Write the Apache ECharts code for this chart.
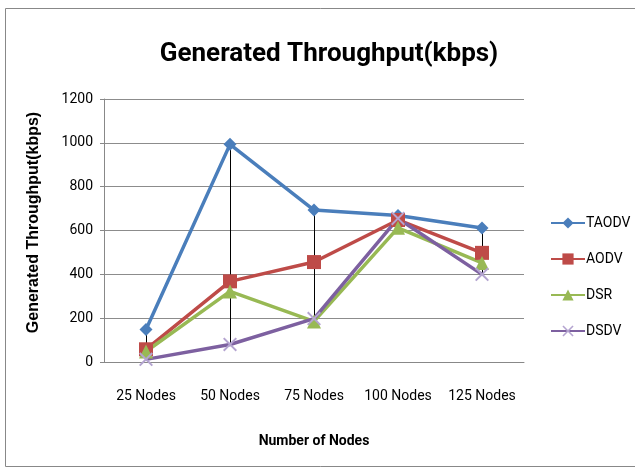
<!DOCTYPE html>
<html>
<head>
<meta charset="utf-8">
<script src="https://cdn.jsdelivr.net/npm/echarts@6/dist/echarts.min.js"></script>
<style>
  html, body { margin: 0; padding: 0; background: #fff; }
  #chart { width: 635px; height: 470px; }
</style>
</head>
<body>
<div id="chart"></div>
<script>
const categories = ['25 Nodes', '50 Nodes', '75 Nodes', '100 Nodes', '125 Nodes']
const taodv = [148, 993, 693, 668, 611]
const aodv = [58, 368, 456, 648, 498]
const dsr = [48, 322, 185, 612, 452]
const dsdv = [12, 80, 198, 655, 400]
const yTicks = [0, 200, 400, 600, 800, 1000, 1200]

const font = "Roboto, 'Noto Sans', sans-serif"
const all = [taodv, aodv, dsr, dsdv]
const highLow = categories.map((c, i) => [
  i,
  Math.max(...all.map((s) => s[i])),
  Math.min(...all.map((s) => s[i]))
])

const crossPath = 'path://M0,1L1,0L5,4L9,0L10,1L6,5L10,9L9,10L5,6L1,10L0,9L4,5Z'

function lineSeries(name, data, color, symbol, size, extra) {
  return Object.assign({
    name,
    type: 'line',
    data,
    symbol,
    symbolSize: size,
    lineStyle: { color, width: 3.5 },
    itemStyle: { color },
    z: 3
  }, extra || {})
}

const chart = echarts.init(document.getElementById('chart'))
chart.setOption({
  animation: false,
  title: {
    text: 'Generated Throughput(kbps)',
    left: 324,
    textAlign: 'center',
    top: 36,
    textStyle: { fontFamily: font, fontSize: 26, fontWeight: 'bold', color: '#000' }
  },
  graphic: [{
    type: 'rect',
    shape: { x: 5.5, y: 8.5, width: 640, height: 458 },
    style: { fill: 'none', stroke: '#888', lineWidth: 1 },
    silent: true
  }],
  legend: {
    orient: 'vertical',
    left: 545,
    top: 211,
    itemGap: 22,
    itemWidth: 34,
    itemHeight: 14,
    textStyle: { fontFamily: font, fontSize: 14, color: '#000', padding: [0, 0, 0, -4] },
    data: ['TAODV', 'AODV', 'DSR', 'DSDV']
  },
  grid: { left: 104, right: 111, top: 99, bottom: 108 },
  xAxis: {
    type: 'category',
    data: categories,
    name: 'Number of Nodes',
    nameLocation: 'middle',
    nameGap: 72,
    nameTextStyle: { fontFamily: font, fontSize: 14, fontWeight: 'bold', color: '#000' },
    axisLine: { lineStyle: { color: '#888' } },
    axisTick: { show: false },
    axisLabel: { fontFamily: font, fontSize: 14, color: '#000', margin: 27, interval: 0 }
  },
  yAxis: {
    type: 'value',
    min: 0,
    max: 1200,
    interval: 200,
    name: 'Generated Throughput(kbps)',
    nameLocation: 'middle',
    nameGap: 62,
    nameTextStyle: {
      fontFamily: "'Liberation Sans', Arial, sans-serif", fontSize: 16, fontWeight: 'bold', color: '#000',
      padding: [0, 0, 0, 16]
    },
    axisLine: { show: true, lineStyle: { color: '#888' } },
    axisTick: { show: true, length: 4, lineStyle: { color: '#888' } },
    splitLine: { lineStyle: { color: '#8c8c8c', width: 1 } },
    axisLabel: {
      fontFamily: font, fontSize: 14, color: '#000', margin: 11,
      formatter: (v) => (yTicks.includes(v) ? String(v) : '')
    }
  },
  series: [
    {
      type: 'custom',
      data: highLow,
      silent: true,
      z: 2,
      renderItem(params, api) {
        const top = api.coord([api.value(0), api.value(1)])
        const bot = api.coord([api.value(0), api.value(2)])
        return {
          type: 'line',
          shape: { x1: Math.round(top[0]) + 0.5, y1: top[1], x2: Math.round(bot[0]) + 0.5, y2: bot[1] },
          style: { stroke: '#000', lineWidth: 1 }
        }
      }
    },
    lineSeries('TAODV', taodv, '#4a7ebb', 'diamond', 13),
    lineSeries('AODV', aodv, '#be4b48', 'rect', 14),
    lineSeries('DSR', dsr, '#98b954', 'triangle', 14),
    lineSeries('DSDV', dsdv, '#7d60a0', crossPath, 14, {
      itemStyle: { color: '#b4a4d0' }
    })
  ]
})
</script>
</body>
</html>
